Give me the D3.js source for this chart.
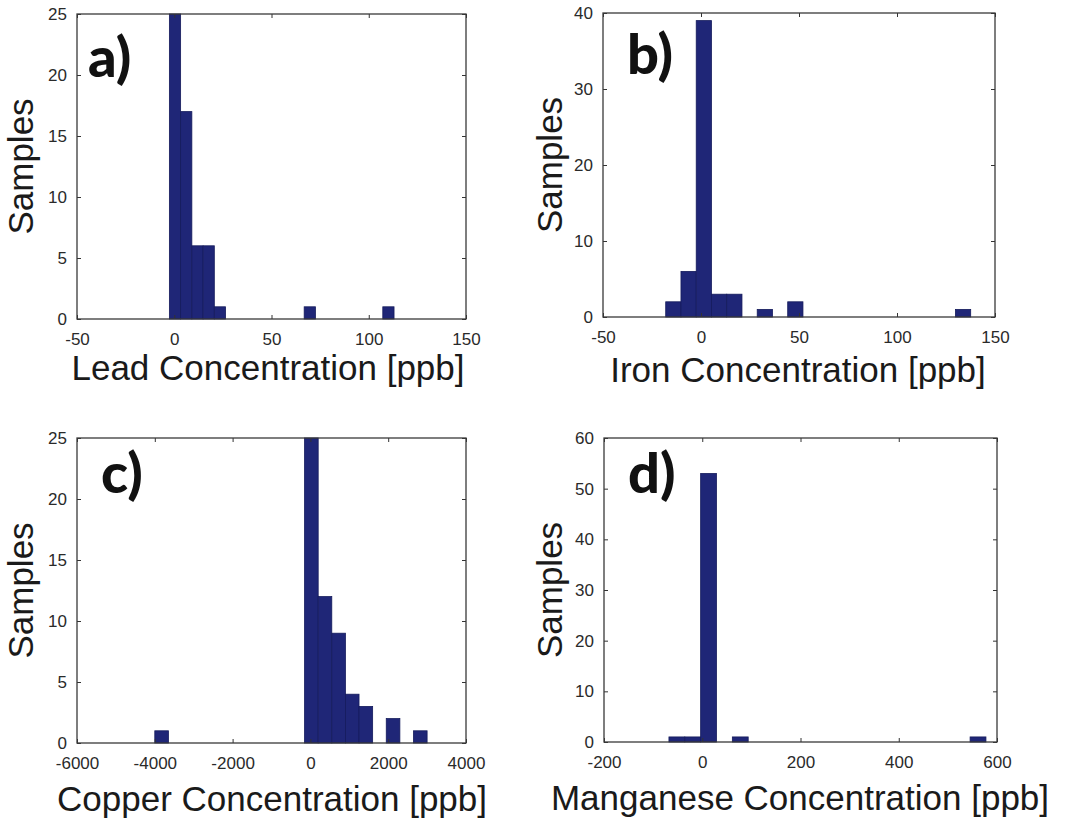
<!DOCTYPE html>
<html>
<head>
<meta charset="utf-8">
<script src="https://cdn.jsdelivr.net/npm/d3@7"></script>
<style>
  html, body { margin: 0; padding: 0; background: #fff; }
  svg { display: block; }
  .tick text { font-family: "Liberation Sans", Arial, sans-serif; font-size: 17px; fill: #2a2a2a; }
  .axis-title { font-family: "Liberation Sans", Arial, sans-serif; font-size: 35px; fill: #1a1a1a; }
  .panel-tag { font-family: Lato, "Open Sans", sans-serif; font-weight: 900; font-size: 56px; fill: #111; }
</style>
</head>
<body>
<svg id="chart" width="1072" height="822"></svg>
<script>
// Histogram counts (20 equal-width bins between the range limits)
const leadCounts = [25, 17, 6, 6, 1, 0, 0, 0, 0, 0, 0, 0, 1, 0, 0, 0, 0, 0, 0, 1];
const leadRange = [-2.5, 113];
const ironCounts = [2, 6, 39, 3, 3, 0, 1, 0, 2, 0, 0, 0, 0, 0, 0, 0, 0, 0, 0, 1];
const ironRange = [-18, 137.6];
const copperCounts = [1, 0, 0, 0, 0, 0, 0, 0, 0, 0, 0, 25, 12, 9, 4, 3, 0, 2, 0, 1];
const copperRange = [-4000, 3000];
const manganeseCounts = [1, 1, 53, 0, 1, 0, 0, 0, 0, 0, 0, 0, 0, 0, 0, 0, 0, 0, 0, 1];
const manganeseRange = [-67.8, 577.5];

// Axis ticks
const leadTicksX = [-50, 0, 50, 100, 150];
const leadTicksY = [0, 5, 10, 15, 20, 25];
const ironTicksX = [-50, 0, 50, 100, 150];
const ironTicksY = [0, 10, 20, 30, 40];
const copperTicksX = [-6000, -4000, -2000, 0, 2000, 4000];
const copperTicksY = [0, 5, 10, 15, 20, 25];
const manganeseTicksX = [-200, 0, 200, 400, 600];
const manganeseTicksY = [0, 10, 20, 30, 40, 50, 60];

// Panel labels and titles
const panelTags = ["a)", "b)", "c)", "d)"];
const xTitles = ["Lead Concentration [ppb]", "Iron Concentration [ppb]",
                 "Copper Concentration [ppb]", "Manganese Concentration [ppb]"];
const yTitle = "Samples";

const svg = d3.select("#chart");
const barFill = "#1f2677";
const barEdge = "#151b5c";

const panels = [
  { counts: leadCounts, range: leadRange, tx: leadTicksX, ty: leadTicksY,
    box: { l: 77, r: 466, t: 14, b: 319 }, tag: [88, 77], titleX: 268, titleY: 380, yTitleX: 33 },
  { counts: ironCounts, range: ironRange, tx: ironTicksX, ty: ironTicksY,
    box: { l: 603, r: 995, t: 13, b: 317 }, tag: [627, 74], titleX: 798, titleY: 382, yTitleX: 562 },
  { counts: copperCounts, range: copperRange, tx: copperTicksX, ty: copperTicksY,
    box: { l: 77, r: 466, t: 438, b: 743 }, tag: [101, 493], titleX: 272, titleY: 811, yTitleX: 33 },
  { counts: manganeseCounts, range: manganeseRange, tx: manganeseTicksX, ty: manganeseTicksY,
    box: { l: 604, r: 997, t: 438, b: 742 }, tag: [628, 493], titleX: 800, titleY: 810, yTitleX: 562 }
];

panels.forEach((p, i) => {
  const { l, r, t, b } = p.box;
  const x = d3.scaleLinear().domain(d3.extent(p.tx)).range([l, r]);
  const y = d3.scaleLinear().domain(d3.extent(p.ty)).range([b, t]);
  const nBins = p.counts.length;
  const w = (p.range[1] - p.range[0]) / nBins;
  const bins = p.counts.map((c, k) => ({ x0: p.range[0] + k * w, x1: p.range[0] + (k + 1) * w, n: c }));

  const g = svg.append("g");

  // bars
  g.selectAll("rect.bar").data(bins.filter(d => d.n > 0)).join("rect")
    .attr("class", "bar")
    .attr("x", d => x(d.x0))
    .attr("width", d => x(d.x1) - x(d.x0))
    .attr("y", d => y(d.n))
    .attr("height", d => y(0) - y(d.n))
    .attr("fill", barFill)
    .attr("stroke", barEdge)
    .attr("stroke-width", 0.8);

  // axes with inward ticks
  const bottom = g.append("g").attr("transform", `translate(0,${b})`)
    .call(d3.axisBottom(x).tickValues(p.tx).tickFormat(d3.format("d")).tickSizeInner(-4).tickSizeOuter(0).tickPadding(14));
  const left = g.append("g").attr("transform", `translate(${l},0)`)
    .call(d3.axisLeft(y).tickValues(p.ty).tickFormat(d3.format("d")).tickSizeInner(-4).tickSizeOuter(0).tickPadding(10));
  const top = g.append("g").attr("transform", `translate(0,${t})`)
    .call(d3.axisTop(x).tickValues(p.tx).tickFormat("").tickSizeInner(-4).tickSizeOuter(0));
  const right = g.append("g").attr("transform", `translate(${r},0)`)
    .call(d3.axisRight(y).tickValues(p.ty).tickFormat("").tickSizeInner(-4).tickSizeOuter(0));
  [bottom, left, top, right].forEach(a => {
    a.select(".domain").remove();
    a.selectAll(".tick line").attr("stroke", "#333");
    a.attr("font-family", null).attr("font-size", null);
  });
  bottom.selectAll(".tick text").text(d => d3.format("d")(d).replace("−", "-"));
  left.selectAll(".tick text").text(d => d3.format("d")(d).replace("−", "-"));

  // frame
  g.append("rect")
    .attr("x", l).attr("y", t).attr("width", r - l).attr("height", b - t)
    .attr("fill", "none").attr("stroke", "#3a3a3a").attr("stroke-width", 1.3);

  // titles
  g.append("text").attr("class", "axis-title")
    .attr("x", p.titleX).attr("y", p.titleY).attr("text-anchor", "middle")
    .text(xTitles[i]);
  g.append("text").attr("class", "axis-title")
    .attr("transform", `translate(${p.yTitleX},${(t + b) / 2}) rotate(-90)`)
    .attr("text-anchor", "middle")
    .text(yTitle);

  // panel tag
  g.append("text").attr("class", "panel-tag")
    .attr("x", p.tag[0]).attr("y", p.tag[1])
    .text(panelTags[i]);
});
</script>
</body>
</html>
